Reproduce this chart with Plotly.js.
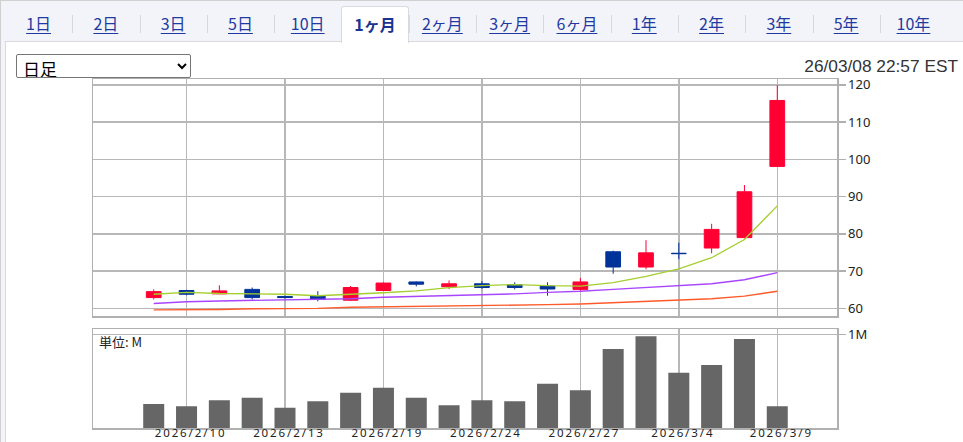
<!DOCTYPE html>
<html>
<head>
<meta charset="utf-8">
<script src="https://cdn.plot.ly/plotly-3.0.1.min.js"></script>
<style>
  html, body { margin:0; padding:0; background:#ffffff; width:963px; height:442px; overflow:hidden; }
  #outer { position:absolute; left:0; top:0; width:963px; height:442px; background:#f3f4f9; border-left:1px solid #d0d0d0; border-top:1px solid #d0d0d0; box-sizing:border-box; }
  #panel { position:absolute; left:5px; top:41px; width:960px; height:410px; background:#ffffff; border-left:1px solid #d9d9de; border-top:1px solid #d9d9de; box-sizing:border-box; }
  .tab { position:absolute; top:6px; height:36px; width:67px; text-align:center; line-height:35px; font-family:"Noto Sans CJK JP","Noto Sans",sans-serif; font-size:16px; color:#1f3aa0; z-index:5; }
  .tab span { text-decoration:underline; text-underline-offset:3px; }
  .tab.active { background:#ffffff; border:1px solid #d9d9de; border-bottom:none; border-radius:3px 3px 0 0; box-sizing:border-box; height:37px; color:#1a3390; font-weight:bold; }
  .tab.active span { text-decoration:none; }
  .sep { position:absolute; top:15px; height:18px; width:1px; background:#d8d8dc; z-index:4; }
  #sel { position:absolute; left:16px; top:54px; width:175px; height:24px; font-family:"Noto Sans CJK JP",sans-serif; font-size:17px; z-index:6; border:1px solid #767676; border-radius:2px; background:#fff; color:#000; padding:0 2px; }
  #stamp { position:absolute; right:5px; top:56px; font-family:"Liberation Sans",Arial,sans-serif; font-size:17.3px; color:#333; z-index:6; }
  #chart { position:absolute; left:0; top:0; width:963px; height:442px; z-index:3; }
  #chart .x2tick text { letter-spacing:1.9px; }
</style>
</head>
<body>
<div id="outer"></div>
<div id="panel"></div>
<div id="tabs"></div>
<select id="sel"><option>日足</option></select>
<div id="stamp">26/03/08 22:57 EST</div>
<div id="chart"></div>
<script>
// ---- data ----
const tabLabels = ['1日','2日','3日','5日','10日','1ヶ月','2ヶ月','3ヶ月','6ヶ月','1年','2年','3年','5年','10年'];
const activeTab = '1ヶ月';

const dates = ['2026/2/9','2026/2/10','2026/2/11','2026/2/12','2026/2/13','2026/2/17','2026/2/18','2026/2/19','2026/2/20','2026/2/23','2026/2/24','2026/2/25','2026/2/26','2026/2/27','2026/3/2','2026/3/3','2026/3/4','2026/3/5','2026/3/6','2026/3/9'];
const openP  = [62.9, 64.8, 63.9, 65.1, 63.2, 63.4, 62.2, 64.8, 67.1, 65.8, 66.6, 66.4, 66.0, 65.1, 75.2, 71.1, 74.8, 76.2, 79.0, 98.1];
const highP  = [65.1, 65.0, 66.2, 65.6, 63.4, 64.6, 66.0, 67.0, 67.2, 67.5, 67.3, 67.0, 67.0, 68.2, 75.5, 78.3, 77.6, 82.7, 93.1, 119.9];
const lowP   = [62.4, 63.5, 63.9, 62.4, 62.7, 61.9, 62.0, 64.8, 65.9, 65.2, 65.3, 65.1, 63.4, 64.7, 69.3, 70.5, 73.2, 74.8, 78.8, 98.0];
const closeP = [64.5, 63.8, 64.7, 62.9, 62.9, 62.4, 65.6, 66.8, 66.5, 66.6, 65.6, 65.6, 65.2, 67.1, 71.1, 74.9, 74.7, 81.2, 91.3, 115.8];
const maShort = [63.8, 64.3, 64.0, 63.9, 63.8, 63.4, 63.7, 64.2, 64.7, 65.6, 66.1, 66.4, 66.1, 66.0, 66.9, 68.6, 70.6, 73.6, 78.5, 87.5];
const maMid   = [61.3, 61.8, 62.0, 62.2, 62.2, 62.6, 62.6, 63.0, 63.2, 63.5, 63.8, 63.9, 64.3, 64.6, 65.1, 65.6, 65.9, 66.6, 67.7, 69.6];
const maLong  = [59.6, 59.6, 59.7, 59.9, 59.9, 60.0, 60.3, 60.4, 60.5, 60.6, 60.7, 60.8, 61.0, 61.2, 61.5, 61.8, 62.1, 62.6, 63.3, 64.6];
const volumeM = [0.256, 0.231, 0.295, 0.324, 0.217, 0.285, 0.377, 0.430, 0.324, 0.242, 0.295, 0.285, 0.473, 0.402, 0.843, 0.979, 0.590, 0.672, 0.950, 0.231];
const xTicks = ['2026/2/10','2026/2/13','2026/2/19','2026/2/24','2026/2/27','2026/3/4','2026/3/9'];
const priceTicks = [60, 70, 80, 90, 100, 110, 120];
const volTicks = [1];
const volTickText = ['1M'];
const unitLabel = '単位: M';

// ---- tabs ----
const tabsEl = document.getElementById('tabs');
const tabW = 67.3, tab0 = 4.9;
tabLabels.forEach((t, i) => {
  const d = document.createElement('div');
  d.className = 'tab' + (t === activeTab ? ' active' : '');
  d.style.left = (tab0 + tabW * i) + 'px';
  d.style.width = tabW + 'px';
  d.innerHTML = '<span>' + t + '</span>';
  tabsEl.appendChild(d);
  if (i > 0) {
    const s = document.createElement('div');
    s.className = 'sep';
    s.style.left = (tab0 + tabW * i) + 'px';
    tabsEl.appendChild(s);
  }
});

// ---- chart ----
const gridC = '#b8b8b8';
const lineC = '#b0b0b0';
const fnt = {family:'Noto Sans, DejaVu Sans, sans-serif', size:13, color:'#222'};

const traces = [
  {type:'scatter', mode:'lines', x:dates, y:maLong, line:{color:'#ff5a2a', width:1.4}, xaxis:'x', yaxis:'y', hoverinfo:'skip'},
  {type:'scatter', mode:'lines', x:dates, y:maMid, line:{color:'#a845ff', width:1.4}, xaxis:'x', yaxis:'y', hoverinfo:'skip'},
  {type:'scatter', mode:'lines', x:dates, y:maShort, line:{color:'#a5cf2e', width:1.3}, xaxis:'x', yaxis:'y', hoverinfo:'skip'},
  {type:'candlestick', x:dates, open:openP, high:highP, low:lowP, close:closeP, xaxis:'x', yaxis:'y',
    increasing:{line:{color:'#ff0033', width:1}, fillcolor:'#ff0033'},
    decreasing:{line:{color:'#003399', width:1}, fillcolor:'#003399'},
    whiskerwidth:0, hoverinfo:'skip'},
  {type:'bar', x:dates, y:volumeM, marker:{color:'#666666', line:{width:0}}, width:0.64, xaxis:'x2', yaxis:'y2', hoverinfo:'skip'}
];

const layout = {
  width:963, height:442,
  margin:{l:93.3, r:126.3, t:78.7, b:14},
  paper_bgcolor:'rgba(0,0,0,0)', plot_bgcolor:'rgba(0,0,0,0)',
  showlegend:false, boxgap:0.36, hovermode:false,
  xaxis:{type:'category', range:[-1.85, 20.82], anchor:'y', tickvals:xTicks, ticktext:xTicks, showticklabels:false,
    showgrid:true, gridcolor:gridC, gridwidth:1.5, showline:true, linecolor:lineC, linewidth:1.5, mirror:true,
    ticks:'', rangeslider:{visible:false}, fixedrange:true, zeroline:false},
  yaxis:{domain:[0.3206, 1], range:[57.93, 121.56], side:'right', tickvals:priceTicks, ticks:'outside', ticklen:7,
    tickcolor:lineC, tickwidth:1.5, tickfont:fnt, showgrid:true, gridcolor:gridC, gridwidth:1.5,
    showline:true, linecolor:lineC, linewidth:1.5, mirror:true, zeroline:false, fixedrange:true},
  xaxis2:{type:'category', range:[-1.85, 20.82], anchor:'y2', matches:'x', tickvals:xTicks, ticktext:xTicks,
    showticklabels:true, tickfont:{family:'Noto Sans, DejaVu Sans, sans-serif', size:11.5, color:'#222'},
    ticklabelstandoff:-6, ticklabelshift:4,
    showgrid:true, gridcolor:gridC, gridwidth:1.5, showline:true, linecolor:lineC, linewidth:1.5, mirror:true,
    ticks:'', fixedrange:true, zeroline:false},
  yaxis2:{domain:[0, 0.2826], range:[0, 1.053], side:'right', tickvals:volTicks, ticktext:volTickText, ticks:'outside',
    ticklen:7, tickcolor:lineC, tickwidth:1.5, tickfont:fnt, showgrid:true, gridcolor:gridC, gridwidth:1.5,
    showline:true, linecolor:lineC, linewidth:1.5, mirror:true, zeroline:false, fixedrange:true},
  annotations:[{text:unitLabel, xref:'x2 domain', yref:'y2 domain', x:0.005, y:0.99, xanchor:'left', yanchor:'top',
    showarrow:false, font:{family:'Noto Sans CJK JP, Noto Sans, sans-serif', size:13, color:'#222'}}]
};

Plotly.newPlot('chart', traces, layout, {staticPlot:true, displayModeBar:false});
</script>
</body>
</html>
